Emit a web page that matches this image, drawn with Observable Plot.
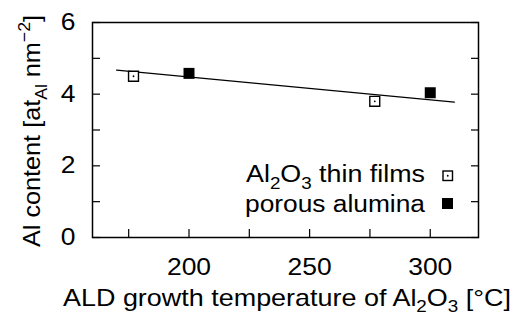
<!DOCTYPE html>
<html>
<head>
<meta charset="utf-8">
<script src="https://cdn.jsdelivr.net/npm/d3@7"></script>
<script src="https://cdn.jsdelivr.net/npm/@observablehq/plot@0.6"></script>
<style>
  html, body { margin: 0; padding: 0; background: white; }
  svg { display: block; }
</style>
</head>
<body>
<div id="chart"></div>
<script>
// ---- data ----
const thinX = [177, 277];          // Al2O3 thin films, temperature (°C)
const thinY = [4.50, 3.80];        // Al content
const porousX = [200, 300];        // porous alumina
const porousY = [4.58, 4.04];
const fitX = [170, 310];           // linear fit end points
const fitY = [4.67, 3.78];
const xTicks = [175, 200, 225, 250, 275, 300];
const xTickLabels = [200, 250, 300];
const yTicks = [0, 1, 2, 3, 4, 5, 6];
const yTickLabels = [0, 2, 4, 6];
const legendLabels = ["thin films", "porous alumina"];

const thin = thinX.map((x, i) => ({x, y: thinY[i]}));
const porous = porousX.map((x, i) => ({x, y: porousY[i]}));
const fit = fitX.map((x, i) => ({x, y: fitY[i]}));

const FS = 23;
const STRETCH = 1.15;
const font = "'Liberation Sans', Arial, Helvetica, sans-serif";

const chart = Plot.plot({
  width: 511,
  height: 316,
  marginLeft: 92,
  marginRight: 33,
  marginTop: 22,
  marginBottom: 79,
  x: {domain: [160, 320]},
  y: {domain: [0, 6]},
  style: {fontFamily: font, fontSize: FS + "px", color: "black", background: "white", overflow: "visible"},
  marks: [
    Plot.axisY(yTicks, {anchor: "left", tickSize: 8, dx: 8, fill: "none", label: null, strokeWidth: 1.2}),
    Plot.axisY(yTicks, {anchor: "right", tickSize: 8, dx: -8, fill: "none", label: null, strokeWidth: 1.2}),
    Plot.axisY(yTickLabels, {anchor: "left", tickSize: 0, tickPadding: 17, label: null}),
    Plot.axisX(xTicks, {anchor: "bottom", tickSize: 8, dy: -8, fill: "none", label: null, strokeWidth: 1.2}),
    Plot.axisX(xTickLabels, {anchor: "bottom", tickSize: 0, tickPadding: 21, label: null}),
    Plot.frame({stroke: "black", strokeWidth: 1.5}),
    Plot.line(fit, {x: "x", y: "y", stroke: "black", strokeWidth: 1.3}),
    Plot.dot(thin, {x: "x", y: "y", symbol: "square", r: 5.6, stroke: "black", fill: "white", strokeWidth: 1.4}),
    Plot.dot(thin, {x: "x", y: "y", r: 0.9, fill: "black"}),
    Plot.dot(porous, {x: "x", y: "y", symbol: "square", r: 6.2, fill: "black"})
  ]
});
document.getElementById("chart").appendChild(chart);

const svg = d3.select(chart);

// stretch the tick labels horizontally, as in the reference typeface
svg.selectAll("g[aria-label$='tick label'] text").each(function() {
  const len = this.getComputedTextLength();
  d3.select(this).attr("textLength", (len * STRETCH).toFixed(1)).attr("lengthAdjust", "spacingAndGlyphs");
});

// rich text helper (sub/superscripts)
function rich(g, segs, fs, sub = 0.3) {
  const t = g.append("text").attr("font-family", font).attr("font-size", fs).attr("fill", "black");
  let shift = 0;
  segs.forEach(s => {
    const target = s.sub ? sub * fs : s.sup ? -0.42 * fs : 0;
    const sp = t.append("tspan").text(s.t).attr("dy", (target - shift).toFixed(2));
    if (s.sub || s.sup) sp.attr("font-size", 0.7 * fs);
    shift = target;
  });
  return t;
}
function stretch(t, length) {
  const len = length || t.node().getComputedTextLength() * STRETCH;
  t.attr("textLength", len.toFixed(1)).attr("lengthAdjust", "spacingAndGlyphs");
  return t;
}

// x-axis title
stretch(rich(svg.append("g").attr("transform", "translate(287,306)"),
  [{t: "ALD growth temperature of Al"}, {t: "2", sub: true}, {t: "O"}, {t: "3", sub: true}, {t: " [°C]"}], 24, 0.25)
  .attr("text-anchor", "middle"), 448);

// y-axis title
stretch(rich(svg.append("g").attr("transform", "translate(40,131) rotate(-90)"),
  [{t: "Al content [at"}, {t: "Al", sub: true}, {t: " nm"}, {t: "−2", sup: true}, {t: "]"}], 24)
  .attr("text-anchor", "middle"), 232);

// legend
const lg = svg.append("g");
stretch(rich(lg.append("g").attr("transform", "translate(425,182)"),
  [{t: "Al"}, {t: "2", sub: true}, {t: "O"}, {t: "3", sub: true}, {t: " " + legendLabels[0]}], FS)
  .attr("text-anchor", "end"), 179);
stretch(rich(lg.append("g").attr("transform", "translate(425,212)"),
  [{t: legendLabels[1]}], FS)
  .attr("text-anchor", "end"), 180);
lg.append("rect").attr("x", 443).attr("y", 171).attr("width", 9.5).attr("height", 9.5)
  .attr("fill", "white").attr("stroke", "black").attr("stroke-width", 1.4);
lg.append("circle").attr("cx", 447.75).attr("cy", 175.75).attr("r", 0.9).attr("fill", "black");
lg.append("rect").attr("x", 442).attr("y", 198).attr("width", 11).attr("height", 11).attr("fill", "black");
</script>
</body>
</html>
